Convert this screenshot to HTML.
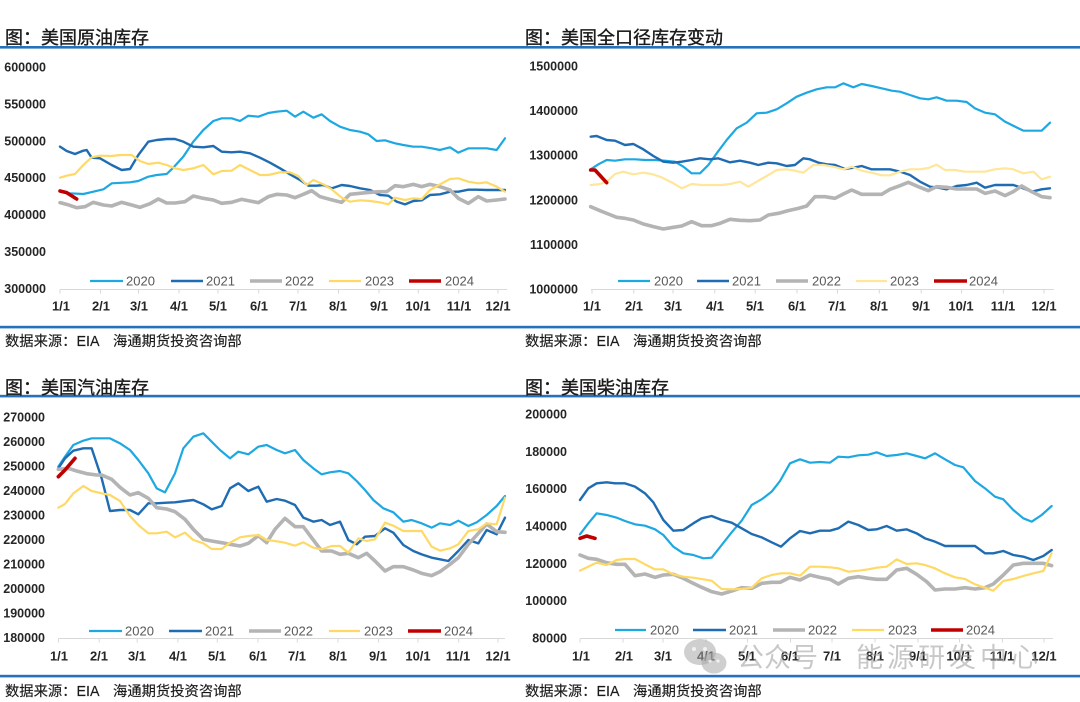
<!DOCTYPE html>
<html>
<head>
<meta charset="utf-8">
<style>
html,body{margin:0;padding:0;background:#fff;}
svg{display:block;}
.t{font-family:"Liberation Sans","Noto Sans CJK SC",sans-serif;font-size:18px;fill:#1a1a1a;stroke:#1a1a1a;stroke-width:0.35px;}
.f{font-family:"Liberation Sans","Noto Sans CJK SC",sans-serif;font-size:14.3px;fill:#1a1a1a;stroke:#1a1a1a;stroke-width:0.15px;}
.yl{font-family:"Liberation Sans",sans-serif;font-size:12.5px;font-weight:bold;fill:#262626;text-anchor:end;}
.xl{font-family:"Liberation Sans",sans-serif;font-size:13px;font-weight:bold;fill:#262626;text-anchor:middle;}
.lg{font-family:"Liberation Sans",sans-serif;font-size:13px;fill:#595959;}
.s{fill:none;stroke-linejoin:round;stroke-linecap:round;}
.s polyline{vector-effect:non-scaling-stroke;}
.c20{stroke:#1DA8E2;stroke-width:2.2;}
.c21{stroke:#1F6CB3;stroke-width:2.4;}
.c22{stroke:#B4B4B4;stroke-width:3.6;}
.c23{stroke:#FFD966;stroke-width:2.2;}
.c23b{stroke:#FFE699;stroke-width:2.2;}
.c24{stroke:#C00000;stroke-width:3.6;}
.ax{stroke:#D9D9D9;stroke-width:1;fill:none;}
.wm{font-family:"Liberation Sans","Noto Sans CJK SC",sans-serif;font-size:27px;fill:#9a9a9a;fill-opacity:0.55;}
</style>
</head>
<body>
<svg width="1080" height="702" viewBox="0 0 1080 702" xmlns="http://www.w3.org/2000/svg">
<rect width="1080" height="702" fill="#fff"/>

<!-- Separator lines -->
<rect x="0" y="46" width="1080" height="2.6" fill="#2672BA"/>
<rect x="0" y="325.8" width="1080" height="2.6" fill="#2672BA"/>
<rect x="0" y="394.8" width="1080" height="2.6" fill="#2672BA"/>
<rect x="0" y="674.8" width="1080" height="2.6" fill="#2672BA"/>

<!-- Titles -->
<text class="t" x="5" y="44">图：美国原油库存</text>
<text class="t" x="525" y="44">图：美国全口径库存变动</text>
<text class="t" x="5" y="394">图：美国汽油库存</text>
<text class="t" x="525" y="394">图：美国柴油库存</text>

<!-- Footers -->
<text class="f" x="5" y="346">数据来源：EIA　海通期货投资咨询部</text>
<text class="f" x="525" y="346">数据来源：EIA　海通期货投资咨询部</text>
<text class="f" x="5" y="696">数据来源：EIA　海通期货投资咨询部</text>
<text class="f" x="525" y="696">数据来源：EIA　海通期货投资咨询部</text>

<!-- ================= Chart 1 ================= -->
<g>
<text class="yl" x="46" y="71.5">600000</text>
<text class="yl" x="46" y="108.4">550000</text>
<text class="yl" x="46" y="145.3">500000</text>
<text class="yl" x="46" y="182.2">450000</text>
<text class="yl" x="46" y="219.1">400000</text>
<text class="yl" x="46" y="256">350000</text>
<text class="yl" x="46" y="292.9">300000</text>
<path class="ax" d="M60,289.5H507 M60,289.5v4 M100.5,289.5v4 M138.5,289.5v4 M179,289.5v4 M218,289.5v4 M258.7,289.5v4 M298,289.5v4 M338.5,289.5v4 M379,289.5v4 M418.3,289.5v4 M458.8,289.5v4 M498,289.5v4"/>
<text class="xl" x="61" y="310.5">1/1</text>
<text class="xl" x="101" y="310.5">2/1</text>
<text class="xl" x="139" y="310.5">3/1</text>
<text class="xl" x="179" y="310.5">4/1</text>
<text class="xl" x="218" y="310.5">5/1</text>
<text class="xl" x="259" y="310.5">6/1</text>
<text class="xl" x="298" y="310.5">7/1</text>
<text class="xl" x="338" y="310.5">8/1</text>
<text class="xl" x="379" y="310.5">9/1</text>
<text class="xl" x="418" y="310.5">10/1</text>
<text class="xl" x="459" y="310.5">11/1</text>
<text class="xl" x="498" y="310.5">12/1</text>
<!-- legend -->
<line class="c20" x1="90" y1="281" x2="123" y2="281"/><text class="lg" x="126" y="285.6">2020</text>
<line class="c21" x1="171" y1="281" x2="203" y2="281"/><text class="lg" x="206" y="285.6">2021</text>
<line class="c22" x1="250" y1="281" x2="282" y2="281"/><text class="lg" x="285" y="285.6">2022</text>
<line class="c23" x1="329" y1="281" x2="361" y2="281"/><text class="lg" x="365" y="285.6">2023</text>
<line class="c24" x1="409" y1="281" x2="441" y2="281"/><text class="lg" x="445" y="285.6">2024</text>
<g class="s" transform="translate(50,95) scale(0.33333)">
<polyline class="c20" points="30,290 60,295 100,297 130,290 160,283 185,265 240,262 265,258 295,245 320,240 350,237 370,218 400,185 430,140 460,105 490,78 515,70 545,70 570,78 595,62 625,65 655,54 680,50 710,47 735,65 760,50 790,68 815,58 840,78 870,95 900,105 930,110 955,118 980,138 1005,136 1035,145 1060,150 1090,155 1115,155 1145,160 1170,165 1200,157 1225,173 1255,160 1280,160 1310,160 1340,165 1365,130"/>
<polyline class="c21" points="30,155 50,168 75,177 100,167 110,165 125,188 150,190 185,210 215,225 240,222 265,180 295,140 320,135 350,132 375,132 400,140 430,155 460,157 490,153 515,170 545,172 570,170 600,175 630,188 660,203 690,220 720,238 750,255 775,272 800,272 820,270 845,280 875,270 900,273 930,280 960,285 990,300 1015,302 1040,320 1065,328 1090,318 1115,316 1140,300 1170,298 1200,290 1225,290 1255,284 1280,284 1310,285 1340,285 1365,285"/>
<polyline class="c22" points="30,323 50,328 80,338 105,335 130,322 160,330 185,333 215,322 245,330 270,337 300,326 325,312 350,324 375,324 405,320 430,303 460,310 490,315 515,325 545,322 575,313 600,318 625,323 655,305 680,298 710,300 735,308 760,298 785,287 810,305 840,313 875,322 900,298 930,295 960,292 990,290 1010,290 1035,272 1060,275 1090,268 1115,275 1140,268 1170,275 1200,285 1225,310 1255,325 1285,305 1310,318 1340,315 1365,312"/>
<polyline class="c23" points="30,248 50,242 75,237 100,210 125,187 150,182 185,183 210,180 245,180 270,198 295,207 325,203 350,210 375,220 400,225 430,220 460,210 490,238 515,228 545,227 570,210 600,225 630,240 655,240 690,232 720,232 745,243 770,270 790,255 820,268 845,283 875,308 900,320 930,316 960,318 990,322 1015,328 1035,308 1065,315 1090,310 1115,312 1140,285 1170,268 1200,252 1225,250 1255,260 1285,265 1310,262 1340,275 1365,290"/>
<polyline class="c24" points="30,288 50,293 80,312"/>
</g>
</g>

<!-- ================= Chart 2 ================= -->
<g>
<text class="yl" x="578" y="70.5">1500000</text>
<text class="yl" x="578" y="115.1">1400000</text>
<text class="yl" x="578" y="159.7">1300000</text>
<text class="yl" x="578" y="204.3">1200000</text>
<text class="yl" x="578" y="248.9">1100000</text>
<text class="yl" x="578" y="293.5">1000000</text>
<path class="ax" d="M591,289.5H1054 M592,289.5v4 M633.8,289.5v4 M673,289.5v4 M714.8,289.5v4 M755.2,289.5v4 M797,289.5v4 M837.5,289.5v4 M879.3,289.5v4 M921.2,289.5v4 M961.6,289.5v4 M1003.4,289.5v4 M1044,289.5v4"/>
<text class="xl" x="592" y="310.5">1/1</text>
<text class="xl" x="634" y="310.5">2/1</text>
<text class="xl" x="673" y="310.5">3/1</text>
<text class="xl" x="715" y="310.5">4/1</text>
<text class="xl" x="755" y="310.5">5/1</text>
<text class="xl" x="797" y="310.5">6/1</text>
<text class="xl" x="837" y="310.5">7/1</text>
<text class="xl" x="879" y="310.5">8/1</text>
<text class="xl" x="921" y="310.5">9/1</text>
<text class="xl" x="961" y="310.5">10/1</text>
<text class="xl" x="1003" y="310.5">11/1</text>
<text class="xl" x="1044" y="310.5">12/1</text>
<line class="c20" x1="618" y1="281" x2="650" y2="281"/><text class="lg" x="654" y="285.6">2020</text>
<line class="c21" x1="697" y1="281" x2="729" y2="281"/><text class="lg" x="732" y="285.6">2021</text>
<line class="c22" x1="776" y1="281" x2="808" y2="281"/><text class="lg" x="812" y="285.6">2022</text>
<line class="c23b" x1="856" y1="281" x2="887" y2="281"/><text class="lg" x="890" y="285.6">2023</text>
<line class="c24" x1="934" y1="281" x2="967" y2="281"/><text class="lg" x="969" y="285.6">2024</text>
<g class="s" transform="translate(580,70) scale(0.33333)">
<polyline class="c20" points="32,298 55,283 80,270 105,272 135,268 165,268 195,270 225,270 255,272 285,275 310,290 335,310 360,310 385,285 410,250 440,210 470,175 500,158 530,130 560,128 590,118 620,100 650,80 680,68 710,58 740,52 765,52 790,40 820,52 845,42 875,48 905,55 935,62 960,65 990,75 1020,85 1045,88 1070,82 1100,92 1130,92 1160,96 1185,115 1215,128 1245,133 1275,155 1305,170 1330,182 1360,182 1385,182 1410,158"/>
<polyline class="c21" points="32,200 50,198 80,210 105,212 135,225 160,222 190,238 220,258 250,275 280,278 305,275 335,270 360,265 390,268 415,265 450,277 480,272 510,278 535,285 565,278 590,280 620,288 645,285 670,265 690,268 715,278 740,283 765,285 795,297 820,293 845,288 875,298 900,298 930,298 960,305 990,315 1020,335 1050,350 1075,353 1100,358 1130,348 1160,345 1190,338 1215,353 1245,345 1275,345 1300,345 1330,355 1355,365 1385,358 1410,355"/>
<polyline class="c22" points="32,410 60,422 85,432 110,442 135,445 160,450 190,462 220,470 250,477 280,472 305,468 335,455 365,467 395,467 420,460 450,448 480,451 510,452 540,450 565,435 595,430 625,422 655,415 680,408 705,380 735,380 765,385 790,372 815,360 845,373 875,373 905,373 930,358 960,347 985,337 1015,350 1045,362 1070,350 1100,352 1130,357 1160,357 1190,357 1215,370 1245,363 1275,377 1300,365 1325,348 1355,365 1385,380 1410,383"/>
<polyline class="c23b" points="32,345 60,342 80,335 105,312 130,305 160,313 190,308 215,312 245,322 275,337 305,355 335,342 365,345 395,345 425,345 450,342 480,335 505,350 530,335 560,318 590,300 620,298 645,302 670,308 700,285 730,285 760,290 790,298 815,290 845,302 875,308 905,316 930,316 960,305 990,298 1020,298 1045,294 1070,284 1095,300 1125,300 1155,305 1185,305 1215,305 1245,298 1275,295 1300,298 1330,310 1360,305 1385,328 1410,320"/>
<polyline class="c24" points="32,300 45,300 80,338"/>
</g>
</g>

<!-- ================= Chart 3 ================= -->
<g>
<text class="yl" x="45" y="421.5">270000</text>
<text class="yl" x="45" y="446">260000</text>
<text class="yl" x="45" y="470.5">250000</text>
<text class="yl" x="45" y="495">240000</text>
<text class="yl" x="45" y="519.5">230000</text>
<text class="yl" x="45" y="544">220000</text>
<text class="yl" x="45" y="568.5">210000</text>
<text class="yl" x="45" y="593">200000</text>
<text class="yl" x="45" y="617.5">190000</text>
<text class="yl" x="45" y="642">180000</text>
<path class="ax" d="M58.5,638.5H505 M58.5,638.5v4 M99.2,638.5v4 M137.2,638.5v4 M177.9,638.5v4 M217.3,638.5v4 M258,638.5v4 M297.3,638.5v4 M338,638.5v4 M378.6,638.5v4 M418,638.5v4 M458.7,638.5v4 M498,638.5v4"/>
<text class="xl" x="59" y="660.5">1/1</text>
<text class="xl" x="99" y="660.5">2/1</text>
<text class="xl" x="137" y="660.5">3/1</text>
<text class="xl" x="178" y="660.5">4/1</text>
<text class="xl" x="217" y="660.5">5/1</text>
<text class="xl" x="258" y="660.5">6/1</text>
<text class="xl" x="297" y="660.5">7/1</text>
<text class="xl" x="338" y="660.5">8/1</text>
<text class="xl" x="378" y="660.5">9/1</text>
<text class="xl" x="418" y="660.5">10/1</text>
<text class="xl" x="458" y="660.5">11/1</text>
<text class="xl" x="498" y="660.5">12/1</text>
<line class="c20" x1="89" y1="631" x2="122" y2="631"/><text class="lg" x="125" y="635.6">2020</text>
<line class="c21" x1="169" y1="631" x2="202" y2="631"/><text class="lg" x="205" y="635.6">2021</text>
<line class="c22" x1="249" y1="631" x2="281" y2="631"/><text class="lg" x="284" y="635.6">2022</text>
<line class="c23" x1="329" y1="631" x2="360" y2="631"/><text class="lg" x="364" y="635.6">2023</text>
<line class="c24" x1="408" y1="631" x2="441" y2="631"/><text class="lg" x="444" y="635.6">2024</text>
<g class="s" transform="translate(50,425) scale(0.33333)">
<polyline class="c20" points="25,125 45,95 70,60 100,47 125,40 155,40 180,40 210,55 240,75 265,105 295,145 320,190 345,202 375,145 400,70 430,35 460,25 485,50 510,75 540,100 565,80 595,88 625,65 650,60 680,75 705,85 735,75 760,105 790,130 815,148 840,142 870,138 895,145 920,168 945,195 970,225 1000,250 1030,262 1060,290 1085,285 1115,295 1145,308 1170,295 1200,300 1225,287 1255,303 1280,292 1310,270 1340,243 1365,213"/>
<polyline class="c21" points="25,130 45,100 70,77 100,70 125,70 155,160 180,258 210,255 240,255 265,268 295,235 320,235 350,233 375,232 405,228 430,225 460,238 485,253 515,243 540,190 565,175 595,198 625,185 650,230 680,222 705,227 735,240 760,278 790,290 815,285 840,300 870,290 895,345 920,358 945,335 975,333 1005,310 1030,323 1060,360 1090,378 1115,388 1145,398 1170,403 1195,408 1225,378 1255,345 1285,355 1310,315 1340,328 1365,278"/>
<polyline class="c22" points="25,133 55,130 80,138 110,146 140,150 155,150 185,163 210,187 240,210 265,203 295,220 320,248 350,252 375,260 405,283 430,313 460,343 485,348 515,353 540,358 570,363 595,355 625,332 650,353 675,313 705,280 735,305 760,305 790,345 815,378 845,378 870,388 895,385 925,398 950,385 975,408 1005,438 1030,425 1060,425 1090,435 1115,445 1145,452 1170,440 1200,418 1225,398 1255,358 1285,325 1310,297 1340,320 1365,322"/>
<polyline class="c23" points="25,248 45,237 70,205 100,183 125,198 155,205 180,210 210,228 240,273 265,300 295,325 320,325 350,320 375,337 405,323 430,345 460,355 485,372 515,372 540,353 570,337 595,333 625,330 650,345 675,348 705,353 735,362 760,352 790,368 815,373 845,363 870,363 895,383 925,340 950,348 975,343 1005,293 1030,302 1060,318 1090,318 1115,318 1145,365 1170,377 1200,370 1225,358 1255,318 1285,313 1310,295 1340,298 1365,218"/>
<polyline class="c24" points="25,155 45,135 75,100"/>
</g>
</g>

<!-- ================= Chart 4 ================= -->
<g>
<text class="yl" x="567" y="418.5">200000</text>
<text class="yl" x="567" y="455.8">180000</text>
<text class="yl" x="567" y="493.2">160000</text>
<text class="yl" x="567" y="530.5">140000</text>
<text class="yl" x="567" y="567.8">120000</text>
<text class="yl" x="567" y="605.2">100000</text>
<text class="yl" x="567" y="642.5">80000</text>
<path class="ax" d="M580,638.5H1053 M580,638.5v4 M623,638.5v4 M663,638.5v4 M706,638.5v4 M747.6,638.5v4 M790.5,638.5v4 M832,638.5v4 M875,638.5v4 M918,638.5v4 M959.5,638.5v4 M1002.4,638.5v4 M1044,638.5v4"/>
<text class="xl" x="581" y="660.5">1/1</text>
<text class="xl" x="624" y="660.5">2/1</text>
<text class="xl" x="663" y="660.5">3/1</text>
<text class="xl" x="706" y="660.5">4/1</text>
<text class="xl" x="747" y="660.5">5/1</text>
<text class="xl" x="790" y="660.5">6/1</text>
<text class="xl" x="832" y="660.5">7/1</text>
<text class="xl" x="875" y="660.5">8/1</text>
<text class="xl" x="918" y="660.5">9/1</text>
<text class="xl" x="959" y="660.5">10/1</text>
<text class="xl" x="1002" y="660.5">11/1</text>
<text class="xl" x="1044" y="660.5">12/1</text>
<line class="c20" x1="615" y1="630" x2="646" y2="630"/><text class="lg" x="650" y="634.6">2020</text>
<line class="c21" x1="693" y1="630" x2="726" y2="630"/><text class="lg" x="729" y="634.6">2021</text>
<line class="c22" x1="773" y1="630" x2="805" y2="630"/><text class="lg" x="808" y="634.6">2022</text>
<line class="c23" x1="852" y1="630" x2="884" y2="630"/><text class="lg" x="888" y="634.6">2023</text>
<line class="c24" x1="931" y1="630" x2="963" y2="630"/><text class="lg" x="966" y="634.6">2024</text>
<g class="s" transform="translate(575,440) scale(0.33333)">
<polyline class="c20" points="15,283 40,250 65,220 95,225 125,233 150,243 180,253 210,257 240,268 265,285 295,320 325,340 355,345 385,355 410,353 440,315 470,277 500,242 530,195 560,178 590,155 615,123 645,70 675,58 705,68 735,66 765,68 790,50 820,52 850,46 880,44 905,37 935,48 965,45 995,40 1025,48 1050,55 1080,40 1110,58 1140,75 1165,82 1200,123 1230,145 1260,170 1285,178 1315,210 1345,235 1370,245 1400,225 1430,198"/>
<polyline class="c21" points="15,180 40,145 65,130 95,127 120,130 150,130 180,140 210,160 235,187 265,240 295,272 325,270 355,250 380,235 410,228 440,240 470,248 500,265 530,282 560,292 590,307 618,320 645,295 675,273 705,280 735,272 765,272 790,265 820,245 850,255 880,270 905,268 935,258 965,272 995,268 1025,280 1050,295 1080,305 1110,318 1140,318 1170,318 1200,318 1230,340 1255,340 1285,333 1315,345 1345,350 1375,360 1405,348 1430,330"/>
<polyline class="c22" points="15,345 40,355 65,358 95,368 125,373 150,373 180,407 210,402 240,412 265,405 295,403 325,415 355,430 380,442 410,455 440,462 470,453 500,443 530,445 560,430 590,427 615,427 645,412 675,420 705,405 735,412 765,418 790,432 820,415 850,410 880,415 905,418 935,418 965,390 995,385 1025,403 1055,425 1080,450 1110,447 1140,447 1170,443 1200,447 1230,443 1255,432 1285,405 1315,375 1345,370 1375,370 1405,370 1430,377"/>
<polyline class="c23" points="15,392 40,380 65,368 95,375 125,360 150,357 180,357 210,373 240,388 265,388 295,403 325,410 355,413 385,418 410,422 440,447 470,448 500,447 530,443 560,415 590,405 618,400 645,400 675,407 705,380 735,380 765,382 790,385 820,395 850,392 880,388 905,383 935,380 965,358 995,372 1025,370 1050,375 1080,385 1110,400 1140,412 1170,417 1200,433 1230,443 1255,452 1285,423 1315,417 1345,408 1375,400 1405,393 1430,340"/>
<polyline class="c24" points="15,295 35,288 60,295"/>
</g>
</g>

<!-- Watermark -->
<g fill="#a8a8a8" fill-opacity="0.55">
<ellipse cx="700" cy="652" rx="16" ry="13"/>
<ellipse cx="714" cy="663" rx="12.5" ry="10.5"/>
</g>
<g fill="#ffffff" fill-opacity="0.7">
<circle cx="694" cy="649" r="2"/>
<circle cx="705" cy="649" r="2"/>
<circle cx="710" cy="661" r="1.6"/>
<circle cx="718" cy="661" r="1.6"/>
</g>
<text class="wm" x="737" y="667">公众号</text>
<text class="wm" x="828" y="667">·</text>
<text class="wm" x="856" y="667" letter-spacing="4">能源研发中心</text>
</svg>
</body>
</html>
